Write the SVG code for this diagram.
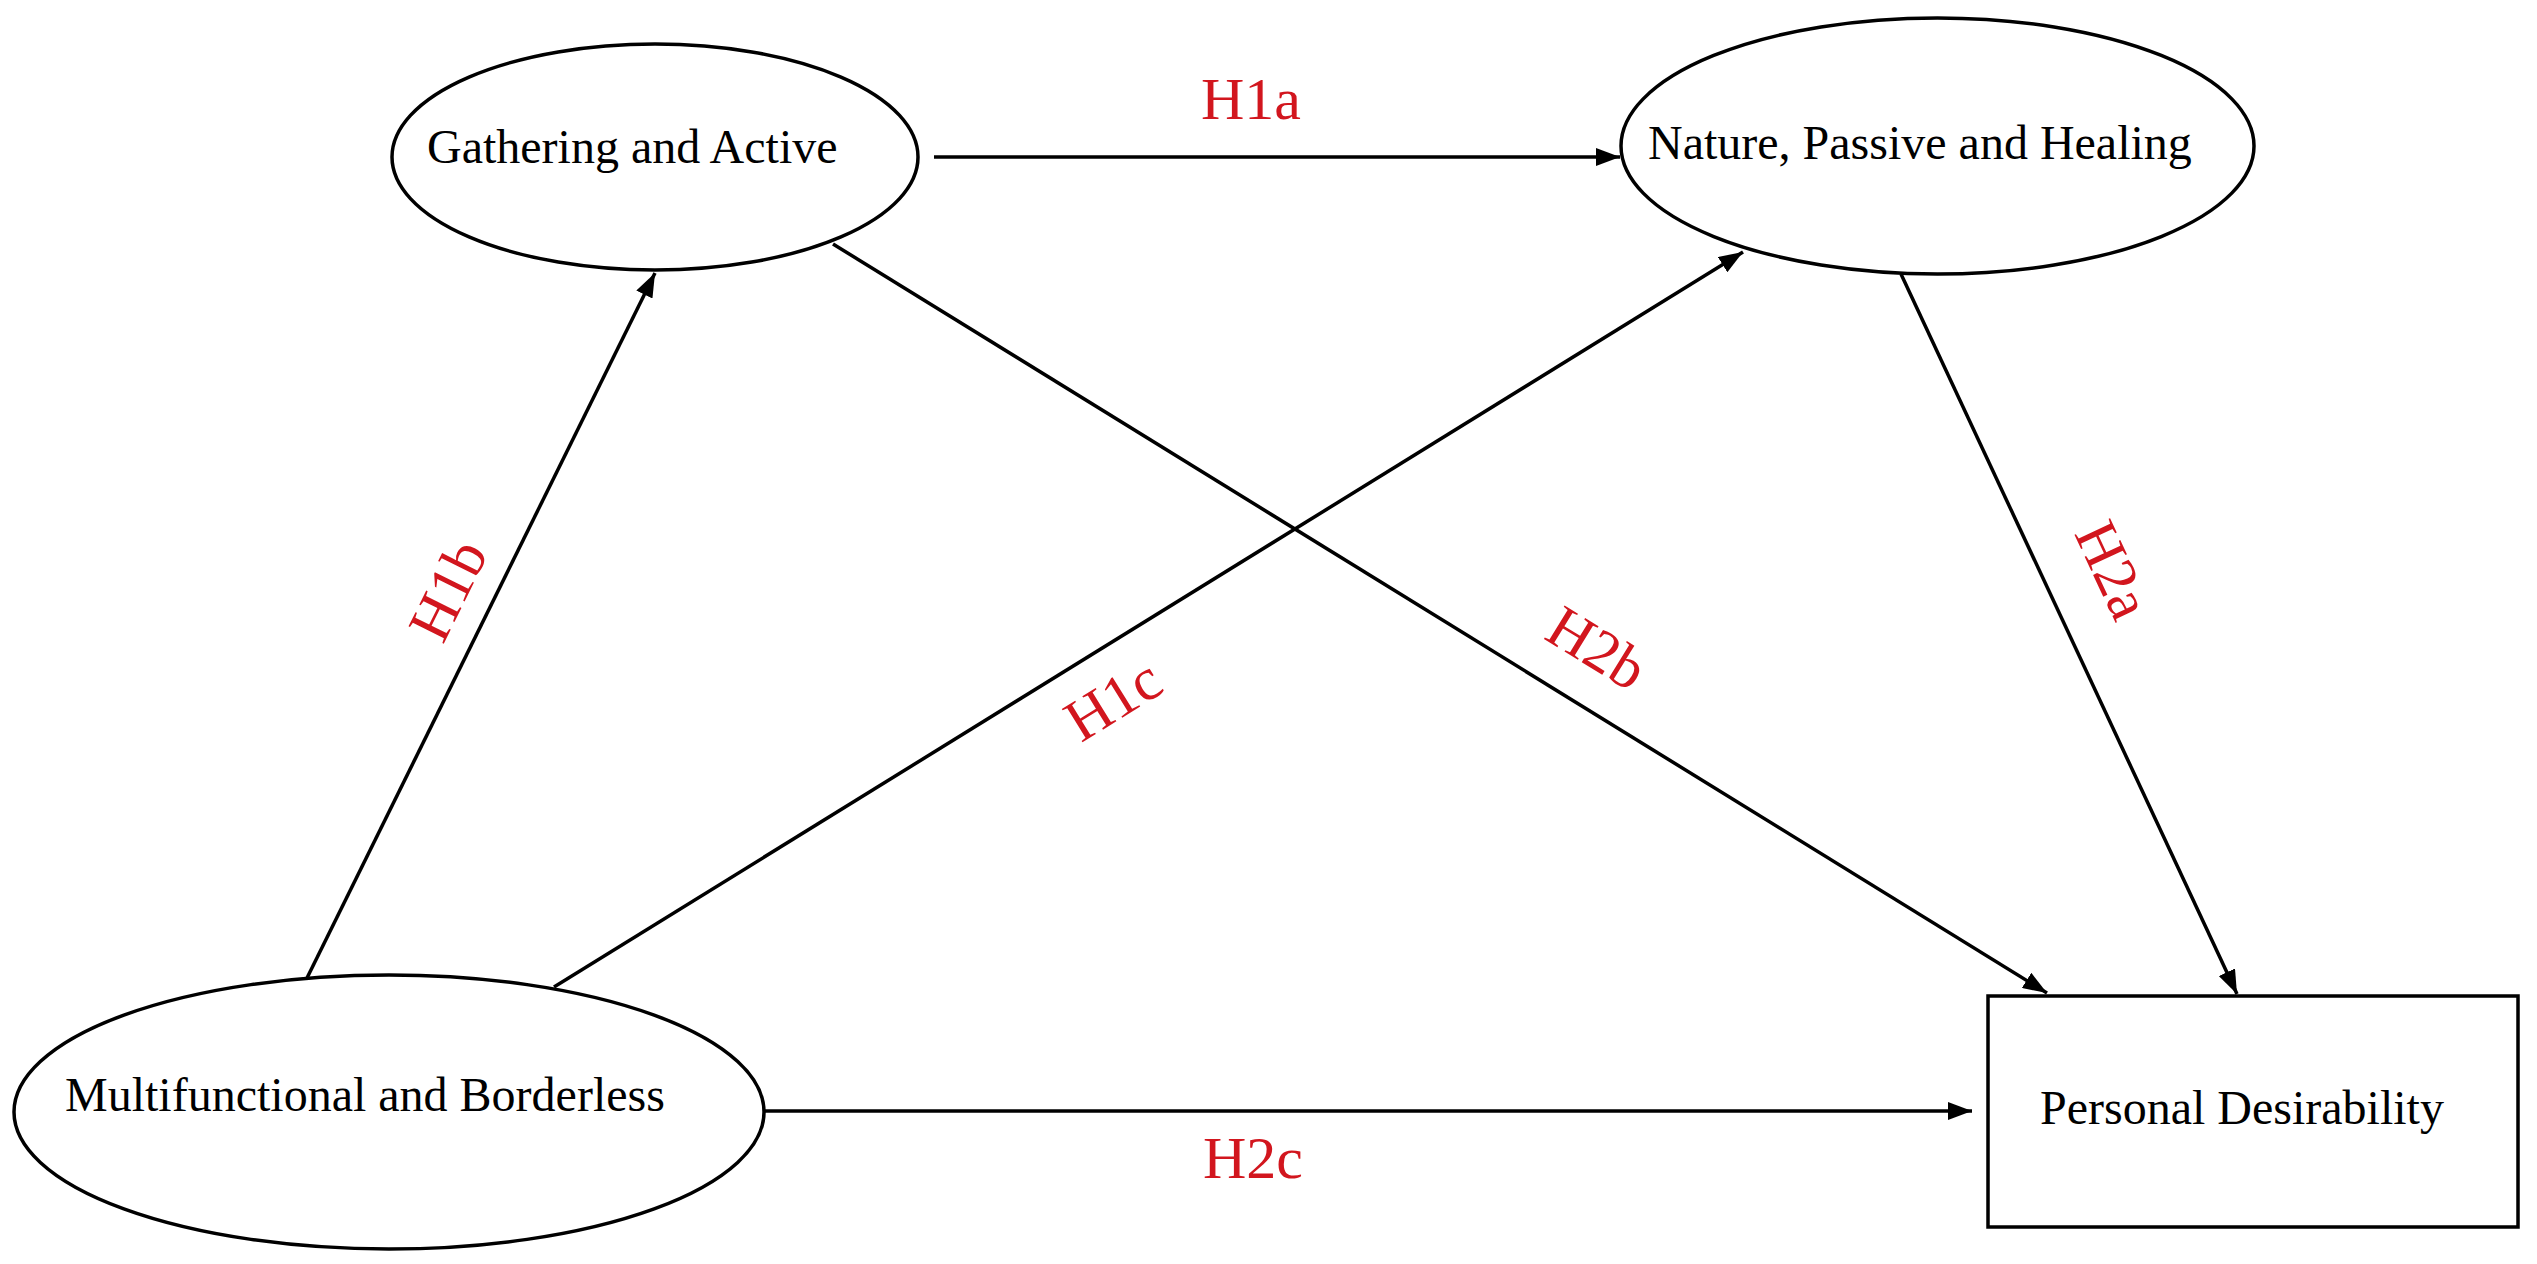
<svg xmlns="http://www.w3.org/2000/svg" width="2537" height="1264" viewBox="0 0 2537 1264">
<style>
.node{fill:#ffffff;stroke:#000000;stroke-width:3.5}
.lbl{font-family:"Liberation Serif","Times New Roman",serif;font-size:48px;fill:#000000}
.hyp{font-family:"Liberation Serif","Times New Roman",serif;font-size:60px;fill:#d2161e}
.conn{stroke:#000000;stroke-width:3.5;fill:none;marker-end:url(#arr)}
</style>
<defs>
<marker id="arr" markerUnits="userSpaceOnUse" markerWidth="24" markerHeight="18" refX="24" refY="9" orient="auto">
<path d="M0,0 L24,9 L0,18 z" fill="#000000"/>
</marker>
</defs>
<rect x="0" y="0" width="2537" height="1264" fill="#ffffff"/>
<g id="connectors">
<line class="conn" x1="934" y1="157" x2="1620" y2="157"/>
<line class="conn" x1="307" y1="978" x2="655" y2="273"/>
<line class="conn" x1="554" y1="987" x2="1743" y2="252"/>
<line class="conn" x1="833" y1="244" x2="2047" y2="993"/>
<line class="conn" x1="1901" y1="274" x2="2237" y2="994"/>
<line class="conn" x1="764" y1="1111" x2="1972" y2="1111"/>
<text class="hyp" x="1201" y="119">H1a</text>
<text class="hyp" text-anchor="middle" transform="translate(448,590) rotate(-63.7)" x="0" y="20">H1b</text>
<text class="hyp" text-anchor="middle" transform="translate(1113,700) rotate(-31.75)" x="0" y="20">H1c</text>
<text class="hyp" text-anchor="middle" transform="translate(1597,648) rotate(31.66)" x="0" y="20">H2b</text>
<text class="hyp" text-anchor="middle" transform="translate(2113,570) rotate(65)" x="0" y="20">H2a</text>
<text class="hyp" x="1203" y="1178">H2c</text>
</g>
<g id="gathering">
<ellipse class="node" cx="655" cy="157" rx="263" ry="113"/>
<text class="lbl" x="427" y="163">Gathering and Active</text>
</g>
<g id="nature">
<ellipse class="node" cx="1937.5" cy="146" rx="316.5" ry="128"/>
<text class="lbl" x="1648" y="159">Nature, Passive and Healing</text>
</g>
<g id="multifunctional">
<ellipse class="node" cx="389" cy="1112" rx="375" ry="137"/>
<text class="lbl" x="65" y="1111">Multifunctional and Borderless</text>
</g>
<g id="personal">
<rect class="node" x="1988" y="996" width="530" height="231" stroke-width="4"/>
<text class="lbl" x="2040" y="1124">Personal Desirability</text>
</g>
</svg>
